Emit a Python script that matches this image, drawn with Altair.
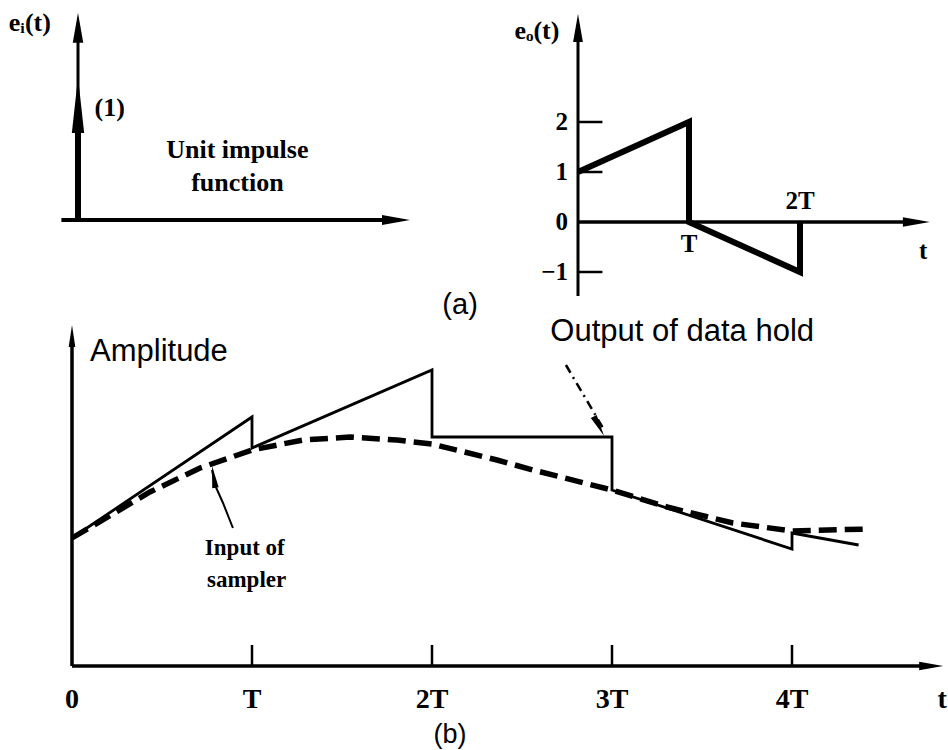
import altair as alt
import pandas as pd

# ---------------- data ----------------
# (a) left: unit impulse at t = 0, strength (1)
IMPULSE_T = [0.0]
IMPULSE_STRENGTH = [1.0]

# (a) right: impulse response of the first-order hold, e_o(t)
EO_T = [0, 1, 1, 2, 2]
EO_VAL = [1, 2, 0, -1, 0]
EO_TICKS = [2, 1, 0, -1]
EO_TICK_LABELS = ["2", "1", "0", "\u22121"]
EO_TICK_MARKS = [2, 1, -1]

# (b): input of sampler (dashed) and output of data hold (solid), t in units of T
HOLD_T = [0, 1, 1, 2, 2, 3, 3, 4, 4, 4.37]
HOLD_AMP = [1.28, 2.49, 2.18, 2.96, 2.29, 2.29, 1.76, 1.17, 1.33, 1.21]
INPUT_T = [0, 0.433, 0.711, 1.0, 1.283, 1.544, 1.806, 2.0, 2.361, 2.561, 3.0, 3.306, 3.672, 4.0, 4.422]
INPUT_AMP = [1.28, 1.74, 1.98, 2.16, 2.26, 2.29, 2.26, 2.22, 2.06, 1.96, 1.76, 1.59, 1.43, 1.35, 1.37]
B_TICKS = [0, 1, 2, 3, 4]
B_TICK_LABELS = ["0", "T", "2T", "3T", "4T"]

# annotation leader lines (panel b units)
SAMPLER_ARROW_T = [0.894, 0.839, 0.794, 0.778]
SAMPLER_ARROW_A = [1.38, 1.63, 1.81, 1.96]
HOLD_ARROW_T = [2.744, 2.95]
HOLD_ARROW_A = [3.01, 2.38]

# ---------------- panel frames (scale domain -> pixel range) ----------------
PANEL = {
    "a1": {"x": ([0, 4], [78, 410]), "y": ([0, 1], [220, 77])},
    "a2": {"x": ([0, 3], [578, 911]), "y": ([-1, 2], [272, 122])},
    "b": {"x": ([0, 4], [72, 792]), "y": ([0, 3], [666, 366])},
}

SERIF = "Liberation Serif"
SANS = "Liberation Sans"


def X(p):
    d, r = PANEL[p]["x"]
    return alt.X("x:Q", scale=alt.Scale(domain=d, range=r, nice=False, zero=False), axis=None)


def Y(p):
    d, r = PANEL[p]["y"]
    return alt.Y("y:Q", scale=alt.Scale(domain=d, range=r, nice=False, zero=False), axis=None)


def rules(p, x, x2, y, y2, w):
    df = pd.DataFrame({"x": x, "x2": x2, "y": y, "y2": y2})
    return alt.Chart(df).mark_rule(strokeWidth=w, color="black", strokeCap="butt").encode(
        x=X(p), x2="x2:Q", y=Y(p), y2="y2:Q")


def line(p, xs, ys, w, dash=None, cap="butt"):
    df = pd.DataFrame({"x": xs, "y": ys, "i": list(range(len(xs)))})
    kw = dict(strokeWidth=w, color="black", strokeCap=cap, strokeJoin="miter")
    if dash:
        kw["strokeDash"] = dash
    return alt.Chart(df).mark_line(**kw).encode(x=X(p), y=Y(p), order="i:Q")


def head(p, x, y, angle, length, half=0.35):
    shape = f"M0,0L{-half},2L{half},2Z"
    df = pd.DataFrame({"x": [x], "y": [y]})
    return alt.Chart(df).mark_point(shape=shape, filled=True, opacity=1, color="black",
                                    size=length ** 2, angle=angle, strokeWidth=0).encode(x=X(p), y=Y(p))


def text(p, xs, ys, labels, size, font=SERIF, weight="bold", align="center", baseline="middle"):
    df = pd.DataFrame({"x": xs, "y": ys, "s": labels})
    return alt.Chart(df).mark_text(font=font, fontSize=size, fontWeight=weight, align=align,
                                   baseline=baseline, color="black").encode(x=X(p), y=Y(p), text="s:N")


layers = []

# ---- (a) left ----
layers += [
    rules("a1", [0], [0], [0], [1.3], 3),
    head("a1", 0, 1.45, 0, 30),
    rules("a1", [-0.2], [3.7], [0], [0], 4),
    head("a1", 4.0, 0, 90, 28),
    rules("a1", IMPULSE_T, IMPULSE_T, [0], [s * 0.62 for s in IMPULSE_STRENGTH], 6),
    head("a1", IMPULSE_T[0], IMPULSE_STRENGTH[0], 0, 56, 0.22),
    text("a1", [-0.58], [1.38], ["e\u1d62(t)"], 26),
    text("a1", [0.2], [0.78], ["(1)"], 26, align="left"),
    text("a1", [1.92, 1.92], [0.49, 0.26], ["Unit impulse", "function"], 26),
]

# ---- (a) right ----
layers += [
    rules("a2", [0], [0], [-1.48], [3.7], 3),
    head("a2", 0, 4.16, 0, 28),
    rules("a2", [0], [2.95], [0], [0], 3.5),
    head("a2", 3.17, 0, 90, 27),
    rules("a2", [0] * len(EO_TICK_MARKS), [0.22] * len(EO_TICK_MARKS), EO_TICK_MARKS, EO_TICK_MARKS, 2.5),
    line("a2", EO_T, EO_VAL, 6),
    text("a2", [-0.09] * len(EO_TICKS), EO_TICKS, EO_TICK_LABELS, 25, align="right"),
    text("a2", [1], [-0.44], ["T"], 25),
    text("a2", [2], [0.42], ["2T"], 25),
    text("a2", [3.11], [-0.58], ["t"], 25),
    text("a2", [-0.37], [3.82], ["e\u2092(t)"], 26),
]

# ---- (b) ----
layers += [
    rules("b", [0], [0], [0], [3.2], 3.5),
    head("b", 0, 3.41, 0, 22, 0.3),
    rules("b", [0], [4.72], [0], [0], 3.5),
    head("b", 4.84, 0, 90, 24, 0.35),
    rules("b", B_TICKS[1:], B_TICKS[1:], [0] * 4, [0.21] * 4, 2.5),
    line("b", INPUT_T, INPUT_AMP, 5.5, dash=[18, 8]),
    line("b", HOLD_T, HOLD_AMP, 2.8),
    text("b", B_TICKS, [-0.34] * len(B_TICKS), B_TICK_LABELS, 28),
    text("b", [4.86], [-0.34], ["t"], 28, align="right"),
    text("b", [2.1], [-0.685], ["(b)"], 27, font=SANS, weight="normal"),
    text("b", [2.156], [3.61], ["(a)"], 29, font=SANS, weight="normal"),
    text("b", [0.1], [3.14], ["Amplitude"], 31, font=SANS, weight="normal", align="left"),
    text("b", [3.39], [3.34], ["Output of data hold"], 31, font=SANS, weight="normal"),
    line("b", HOLD_ARROW_T, HOLD_ARROW_A, 2.5, dash=[9, 5, 2, 5]),
    head("b", 2.956, 2.30, 152, 22, 0.3),
    line("b", SAMPLER_ARROW_T, SAMPLER_ARROW_A, 2),
    head("b", 0.778, 2.0, 351, 22, 0.3),
    text("b", [0.96, 0.97], [1.18, 0.86], ["Input of", "sampler"], 23),
]

chart = alt.layer(*layers).resolve_scale(x="independent", y="independent").properties(
    width=948, height=750, autosize="none", padding=0, background="white"
).configure_view(stroke=None)

chart.save("out.html", embed_options={"renderer": "svg", "actions": False})
